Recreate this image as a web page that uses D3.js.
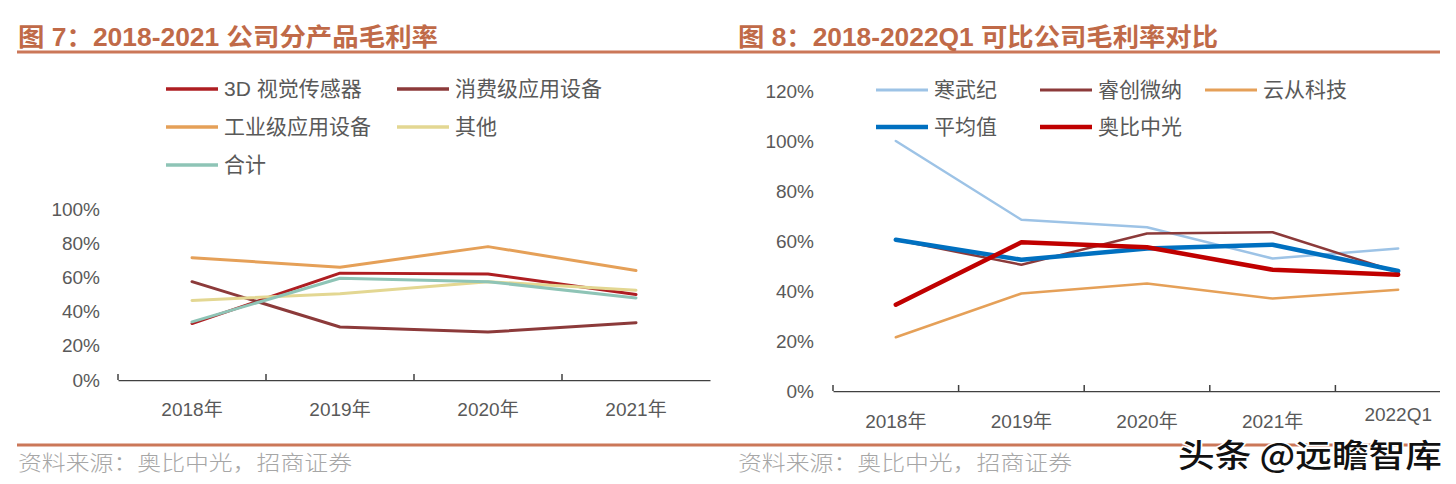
<!DOCTYPE html>
<html><head><meta charset="utf-8">
<script src="https://cdn.jsdelivr.net/npm/d3@7"></script>
<style>body{margin:0;background:#fff} svg{display:block}</style>
</head><body><svg id="c" width="1456" height="484"></svg>
<script>
// ---------- data (left chart) ----------
const leftYears = ["2018年","2019年","2020年","2021年"];
const left3D         = [33, 62.5, 62, 50];
const leftConsumer   = [57.5, 31, 28, 33.5];
const leftIndustrial = [71.5, 66, 78, 64];
const leftOther      = [46.5, 50.5, 57.5, 52.5];
const leftTotal      = [34, 59.5, 57.5, 48];
const leftTicks = [0, 20, 40, 60, 80, 100];
const leftNames = ["3D 视觉传感器","消费级应用设备","工业级应用设备","其他","合计"];

// ---------- data (right chart) ----------
const rightPeriods = ["2018年","2019年","2020年","2021年","2022Q1"];
const hanwuji   = [100, 68.5, 65.5, 53, 57];
const ruichuang = [60.5, 50.5, 63, 63.5, 47.5];
const yuncong   = [21.5, 39, 43, 37, 40.5];
const average   = [60.5, 52.5, 57, 58.5, 48];
const orbbec    = [34.5, 59.5, 57.5, 48.5, 46.5];
const rightTicks = [0, 20, 40, 60, 80, 100, 120];
const rightNames = ["寒武纪","睿创微纳","云从科技","平均值","奥比中光"];

const FONT = "'Liberation Sans', Arial, 'Noto Sans CJK SC', sans-serif";
const svg = d3.select("#c");
const titleColor = "#C06A48", ruleColor = "#CB7758", textColor = "#595959", axisColor = "#404040";

// ---------- titles, rules, sources ----------
svg.append("line").attr("x1",17).attr("x2",1440).attr("y1",52).attr("y2",52)
  .attr("stroke",ruleColor).attr("stroke-width",3);
svg.append("line").attr("x1",17).attr("x2",1440).attr("y1",445).attr("y2",445)
  .attr("stroke",ruleColor).attr("stroke-width",3);
[["图 7：2018-2021 公司分产品毛利率",18,420],["图 8：2018-2022Q1 可比公司毛利率对比",738,480]].forEach(([t,x,w])=>{
  svg.append("text").attr("x",x).attr("y",46).text(t)
    .attr("font-family",FONT).attr("font-weight","bold").attr("font-size",25).attr("fill",titleColor)
    .attr("textLength",w).attr("lengthAdjust","spacingAndGlyphs");
});
[18,738].forEach(x=>{
  svg.append("text").attr("x",x).attr("y",470).text("资料来源：奥比中光，招商证券")
    .attr("font-family","'Noto Sans CJK SC', sans-serif").attr("font-weight",300).attr("font-size",21).attr("fill","#A6A6A6")
    .attr("textLength",334).attr("lengthAdjust","spacingAndGlyphs");
});

function chart(cfg){
  const g = svg.append("g");
  const x = d3.scaleBand().domain(cfg.cats).range(cfg.xr).padding(0);
  const y = d3.scaleLinear().domain(cfg.yd).range(cfg.yr);
  // y labels
  const ya = d3.axisLeft(y).tickValues(cfg.ticks).tickSize(0).tickPadding(0).tickFormat(d=>d+"%");
  const yg = g.append("g").attr("transform",`translate(${cfg.ylabX},0)`).call(ya);
  yg.select(".domain").remove();
  yg.selectAll("text").attr("font-family",FONT).attr("font-size",19).attr("fill",textColor);
  // x axis
  const xa = d3.axisBottom(x).tickSize(0).tickPadding(0);
  const clipId = "clip"+cfg.id;
  svg.append("clipPath").attr("id",clipId).append("rect")
     .attr("x",cfg.xr[0]-2).attr("y",0).attr("width",cfg.clipW).attr("height",484);
  const xg = g.append("g").attr("transform",`translate(0,${cfg.yr[0]})`).call(xa);
  xg.select(".domain").attr("stroke",axisColor).attr("stroke-width",1.5).attr("clip-path",`url(#${clipId})`);
  xg.selectAll(".tick line").remove();
  xg.selectAll("text").attr("font-family",FONT).attr("font-size",19).attr("fill",textColor)
    .attr("dy",cfg.xlabDy);
  if (cfg.lastDy) xg.selectAll(".tick").filter(d=>d===cfg.cats[cfg.cats.length-1]).select("text").attr("dy",cfg.lastDy);
  // boundary ticks (upward)
  g.selectAll(".bt").data(cfg.cats).join("line")
    .attr("x1",d=>x(d)).attr("x2",d=>x(d))
    .attr("y1",cfg.yr[0]).attr("y2",cfg.yr[0]-6)
    .attr("stroke",axisColor).attr("stroke-width",1.5);
  // lines
  const line = d3.line().x((d,i)=>x(cfg.cats[i])+x.bandwidth()/2).y(d=>y(d));
  cfg.series.forEach(s=>{
    g.append("path").datum(s.values).attr("d",line).attr("fill","none")
     .attr("stroke",s.color).attr("stroke-width",s.w).attr("stroke-linejoin","round").attr("stroke-linecap","round");
  });
  // legend
  cfg.series.forEach((s,i)=>{
    const p = cfg.legendPos[i];
    g.append("line").attr("x1",p[0]).attr("x2",p[0]+52).attr("y1",p[1]).attr("y2",p[1])
      .attr("stroke",s.color).attr("stroke-width",s.lw);
    g.append("text").attr("x",p[0]+58).attr("y",p[1]).attr("dy","0.35em").text(s.name)
      .attr("font-family",FONT).attr("font-size",21).attr("fill",textColor);
  });
}

chart({
  id:"L", cats:leftYears, xr:[118,710], yd:[0,100], yr:[380,209], ticks:leftTicks, ylabX:100,
  clipW:600, xlabDy:"1.92em",
  series:[
    {name:leftNames[0], values:left3D, color:"#AE1E22", w:3, lw:3.5},
    {name:leftNames[1], values:leftConsumer, color:"#8C3A3A", w:3, lw:3.5},
    {name:leftNames[2], values:leftIndustrial, color:"#E5A058", w:3, lw:3.5},
    {name:leftNames[3], values:leftOther, color:"#E3D792", w:3, lw:3.5},
    {name:leftNames[4], values:leftTotal, color:"#8EC4B6", w:3, lw:3.5}
  ],
  legendPos:[[166,89],[397,89],[166,127],[397,127],[166,165]]
});

chart({
  id:"R", cats:rightPeriods, xr:[833,1461], yd:[0,120], yr:[391,91], ticks:rightTicks, ylabX:814,
  clipW:609, xlabDy:"1.95em", lastDy:"1.6em",
  series:[
    {name:rightNames[0], values:hanwuji, color:"#9DC3E6", w:2.5, lw:3},
    {name:rightNames[1], values:ruichuang, color:"#8C3A3A", w:2.5, lw:3},
    {name:rightNames[2], values:yuncong, color:"#E5A058", w:2.5, lw:3},
    {name:rightNames[3], values:average, color:"#0070C0", w:4.5, lw:4.5},
    {name:rightNames[4], values:orbbec, color:"#C00000", w:4.5, lw:4.5}
  ],
  legendPos:[[876,90],[1040,90],[1205,90],[876,127],[1040,127]]
});

// watermark
svg.append("text").attr("x",1178).attr("y",467).text("头条 @远瞻智库")
  .attr("font-family","'Noto Sans CJK SC', sans-serif").attr("font-weight",500).attr("font-size",32)
  .attr("textLength",264).attr("lengthAdjust","spacingAndGlyphs")
  .attr("fill","#111").attr("stroke","#fff").attr("stroke-width",3).attr("paint-order","stroke");
</script></body></html>
